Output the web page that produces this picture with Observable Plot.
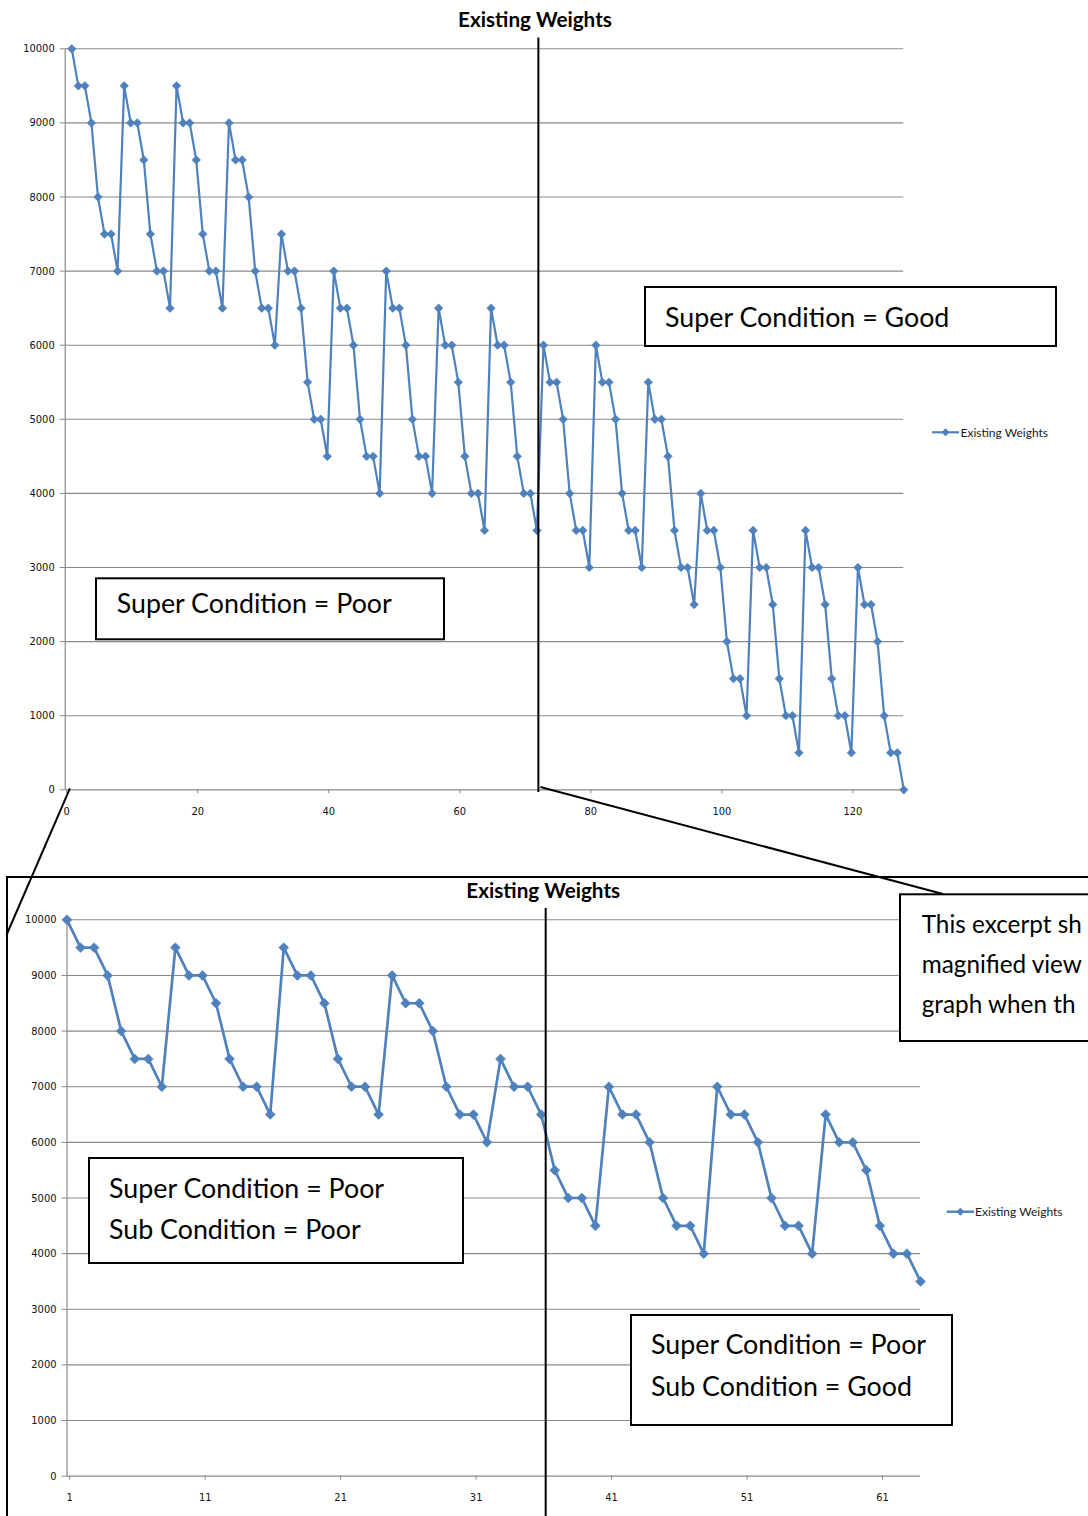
<!DOCTYPE html>
<html>
<head>
<meta charset="utf-8">
<script src="https://cdn.jsdelivr.net/npm/d3@7"></script>
<script src="https://cdn.jsdelivr.net/npm/@observablehq/plot@0.6"></script>
<style>
  html, body { margin: 0; padding: 0; background: #fff; }
  #page { position: relative; width: 1088px; height: 1516px; overflow: hidden; background: #fff; }
  #topChart, #bottomChart { position: absolute; left: 0; }
  #topChart { top: 0; }
  #bottomChart { top: 860px; }
  #overlay { position: absolute; left: 0; top: 0; }
</style>
</head>
<body>
<div id="page">
  <div id="topChart"></div>
  <div id="bottomChart"></div>
  <svg id="overlay" width="1088" height="1516" xmlns="http://www.w3.org/2000/svg"></svg>
</div>
<script>
// ---------------- data ----------------
const seriesName = "Existing Weights";
// Existing weights for records 1..128
const weights = [
  10000, 9500, 9500, 9000, 8000, 7500, 7500, 7000,
  9500, 9000, 9000, 8500, 7500, 7000, 7000, 6500,
  9500, 9000, 9000, 8500, 7500, 7000, 7000, 6500,
  9000, 8500, 8500, 8000, 7000, 6500, 6500, 6000,
  7500, 7000, 7000, 6500, 5500, 5000, 5000, 4500,
  7000, 6500, 6500, 6000, 5000, 4500, 4500, 4000,
  7000, 6500, 6500, 6000, 5000, 4500, 4500, 4000,
  6500, 6000, 6000, 5500, 4500, 4000, 4000, 3500,
  6500, 6000, 6000, 5500, 4500, 4000, 4000, 3500,
  6000, 5500, 5500, 5000, 4000, 3500, 3500, 3000,
  6000, 5500, 5500, 5000, 4000, 3500, 3500, 3000,
  5500, 5000, 5000, 4500, 3500, 3000, 3000, 2500,
  4000, 3500, 3500, 3000, 2000, 1500, 1500, 1000,
  3500, 3000, 3000, 2500, 1500, 1000, 1000, 500,
  3500, 3000, 3000, 2500, 1500, 1000, 1000, 500,
  3000, 2500, 2500, 2000, 1000, 500, 500, 0
];
const excerptLength = 64;              // records shown in the magnified excerpt
const yTicks = [0, 1000, 2000, 3000, 4000, 5000, 6000, 7000, 8000, 9000, 10000];
const topXTicks = [0, 20, 40, 60, 80, 100, 120];
const bottomXTicks = [1, 11, 21, 31, 41, 51, 61];
const superSplit = 72.3;               // boundary Super Condition Poor | Good (full graph)
const subSplit = 36.37;                // boundary Sub Condition Poor | Good (excerpt)

const topData = weights.map((w, i) => ({x: i + 1, y: w}));
const bottomData = weights.slice(0, excerptLength).map((w, i) => ({x: i + 1, y: w}));

// ---------------- styles ----------------
const blue = "#4F81BD";
const gridColor = "#8a8a8a";
const tickFont = "'DejaVu Sans Condensed', 'DejaVu Sans', sans-serif";
const labelFont = "Lato, 'Open Sans', sans-serif";

function makeChart(o) {
  return Plot.plot({
    width: 1088,
    height: o.height,
    marginTop: o.mt, marginRight: o.mr, marginBottom: o.mb, marginLeft: o.ml,
    style: {fontFamily: tickFont, fontSize: o.fs + "px", color: "#111", background: "transparent", overflow: "visible"},
    x: {domain: o.xDomain, label: null},
    y: {domain: [0, 10000], label: null},
    marks: [
      Plot.ruleY(yTicks.filter(d => d > 0), {y: d => d, stroke: gridColor, strokeWidth: 1.1}),
      Plot.axisY({ticks: yTicks, tickSize: 5, tickPadding: 5.5, stroke: gridColor, fill: "#111", tickFormat: d => String(d), label: null}),
      Plot.axisX({ticks: o.xTicks, tickSize: 4, tickPadding: 13, dx: o.xdx, stroke: gridColor, fill: "#111", tickFormat: d => String(d), label: null}),
      Plot.ruleY([0], {stroke: gridColor, strokeWidth: 1.2}),
      Plot.ruleX([o.xDomain[0]], {stroke: gridColor, strokeWidth: 1.2}),
      Plot.line(o.data, {x: "x", y: "y", stroke: blue, strokeWidth: o.sw}),
      Plot.dot(o.data, {x: "x", y: "y", symbol: "diamond2", r: o.r, fill: blue, stroke: blue, strokeWidth: 0.5}),
      Plot.text([seriesName], {frameAnchor: "top", lineAnchor: "middle", dx: o.tdx, dy: o.tdy,
        fontFamily: labelFont, fontWeight: "bold", fontSize: 20.7, fill: "#000"})
    ]
  });
}

const topChart = makeChart({
  height: 830, mt: 48.3, mr: 184.7, mb: 40.7, ml: 64.7,
  xDomain: [0, 128], xTicks: topXTicks, xdx: 1.5, data: topData,
  sw: 2.2, r: 3.9, fs: 11, tdx: 50.5, tdy: -28.8
});
document.getElementById("topChart").appendChild(topChart);

const bottomChart = makeChart({
  height: 656, mt: 59.3, mr: 168, mb: 40.3, ml: 66.5,
  xDomain: [1, 64], xTicks: bottomXTicks, xdx: 2.7, data: bottomData,
  sw: 2.7, r: 4.5, fs: 11, tdx: 49.5, tdy: -28.3
});
document.getElementById("bottomChart").appendChild(bottomChart);

// ---------------- annotations (drawing layer) ----------------
const xTop = topChart.scale("x").apply;
const yTop = topChart.scale("y").apply;
const xBot = v => bottomChart.scale("x").apply(v);

const svg = d3.select("#overlay");
const textRight = 1082;
const boxFontSize = 26.8;

function line(x1, y1, x2, y2, w = 2) {
  svg.append("line").attr("x1", x1).attr("y1", y1).attr("x2", x2).attr("y2", y2)
    .attr("stroke", "#000").attr("stroke-width", w);
}
function box(x, y, w, h, lines, tx, baselines) {
  svg.append("rect").attr("x", x).attr("y", y).attr("width", w).attr("height", h)
    .attr("fill", "#fff").attr("stroke", "#000").attr("stroke-width", 2);
  const els = lines.map((t, i) => svg.append("text").attr("x", tx).attr("y", baselines[i])
    .attr("font-family", labelFont).attr("font-size", boxFontSize).attr("fill", "#000").text(t));
  // shrink the box's text (all lines alike) if it would run past the page edge
  const maxLen = d3.max(els, el => el.node().getComputedTextLength());
  if (tx + maxLen > textRight) {
    const fs = boxFontSize * (textRight - tx) / maxLen;
    els.forEach(el => el.attr("font-size", fs));
  }
}
function legend(x1, x2, y, tx, ty, sw) {
  svg.append("line").attr("x1", x1).attr("x2", x2).attr("y1", y).attr("y2", y)
    .attr("stroke", blue).attr("stroke-width", sw);
  const cx = (x1 + x2) / 2, h = 4;
  svg.append("path").attr("d", `M${cx},${y - h}L${cx + h},${y}L${cx},${y + h}L${cx - h},${y}Z`).attr("fill", blue);
  svg.append("text").attr("x", tx).attr("y", ty).attr("font-family", labelFont)
    .attr("font-size", 12).attr("fill", "#1a1a1a").text(seriesName);
}

// frame around the magnified excerpt
svg.append("rect").attr("x", 7).attr("y", 877).attr("width", 1084).attr("height", 642)
  .attr("fill", "none").attr("stroke", "#000").attr("stroke-width", 2);

// connector lines from the full graph to the excerpt
line(xTop(0.8), yTop(0) - 1, 6.5, 935);
line(xTop(72.3) + 2, 787, 943, 894);

// split lines
line(xTop(superSplit), 37.5, xTop(superSplit), 792);
line(xBot(subSplit), 908, xBot(subSplit), 1516);

// legends
legend(932, 959, 432.3, 960.5, 436.5, 2.2);
legend(946.7, 974, 1211.7, 975, 1216, 2.4);

// text boxes
box(645, 287, 411, 59, ["Super Condition = Good"], 665, [326.5]);
box(96, 578.3, 348, 61, ["Super Condition = Poor"], 116.7, [612.7]);
box(89, 1158, 374, 105, ["Super Condition = Poor", "Sub Condition = Poor"], 109, [1197.5, 1238.5]);
box(631, 1315, 321, 110, ["Super Condition = Poor", "Sub Condition = Good"], 651, [1353.5, 1395.5]);
// callout box: it runs past the right edge of the page in the original, shown as far as visible
box(900, 894.3, 191, 146.7, ["This excerpt sh", "magnified view", "graph when th"], 921.7, [933, 973, 1013]);
</script>
</body>
</html>
